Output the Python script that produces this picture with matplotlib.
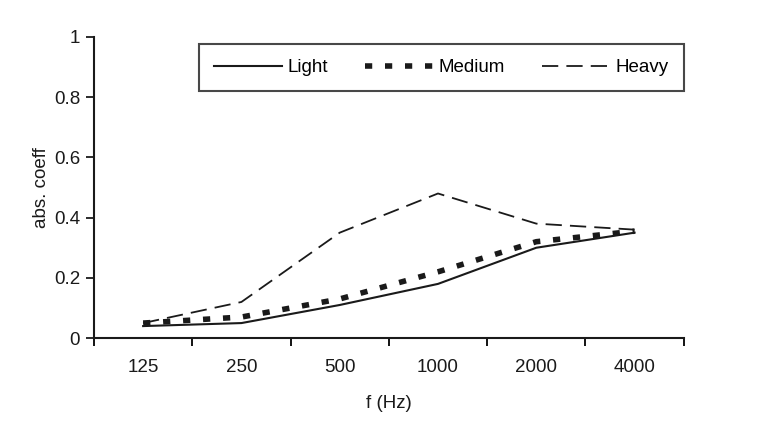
import numpy as np
import matplotlib.pyplot as plt

plt.rcParams['font.family'] = ['Liberation Sans', 'DejaVu Sans']

freqs = ['125', '250', '500', '1000', '2000', '4000']
light = [0.04, 0.05, 0.11, 0.18, 0.30, 0.35]
medium = [0.05, 0.07, 0.13, 0.22, 0.32, 0.355]
heavy = [0.05, 0.12, 0.35, 0.48, 0.38, 0.36]

fig = plt.figure(figsize=(7.58, 4.38), dpi=100)
ax = fig.add_axes([0.124, 0.228, 0.778, 0.688])

x = np.arange(len(freqs))
ax.plot(x, light, color='#1a1a1a', lw=1.5, label='Light')
ax.plot(x, medium, color='#1a1a1a', lw=4.0, linestyle=(0, (1.3, 2.3)), label='Medium')
ax.plot(x, heavy, color='#1a1a1a', lw=1.3, linestyle=(0, (9, 4.5)), label='Heavy')

ax.set_xlim(-0.5, 5.5)
ax.set_ylim(0, 1)
ax.set_yticks([0, 0.2, 0.4, 0.6, 0.8, 1.0])
ax.set_yticklabels(['0', '0.2', '0.4', '0.6', '0.8', '1'])
ax.set_xticks(x)
ax.set_xticklabels(freqs)
ax.set_xticks(np.arange(-0.5, 5.6, 1), minor=True)
ax.tick_params(axis='x', which='major', length=0, pad=15)
ax.tick_params(axis='x', which='minor', length=6, width=1.3, direction='out')
ax.tick_params(axis='y', length=6, width=1.3, direction='out', pad=4)
ax.tick_params(labelsize=13.5, colors='#1a1a1a')

for s in ['top', 'right']:
    ax.spines[s].set_visible(False)
for s in ['left', 'bottom']:
    ax.spines[s].set_linewidth(1.5)
    ax.spines[s].set_color('#1a1a1a')

ax.set_ylabel('abs. coeff', fontsize=13.5, color='#1a1a1a', labelpad=3)
ax.set_xlabel('f (Hz)', fontsize=13.5, color='#1a1a1a', labelpad=14)

leg = ax.legend(ncol=3, loc='upper right', bbox_to_anchor=(1.0, 0.975),
                fontsize=13.5, frameon=True, fancybox=False, edgecolor='#1a1a1a',
                handlelength=3.6, columnspacing=2.0, handletextpad=0.3,
                borderpad=0.8, borderaxespad=0.0)
leg.get_frame().set_linewidth(1.5)

fig.savefig('out.png', dpi=100)
